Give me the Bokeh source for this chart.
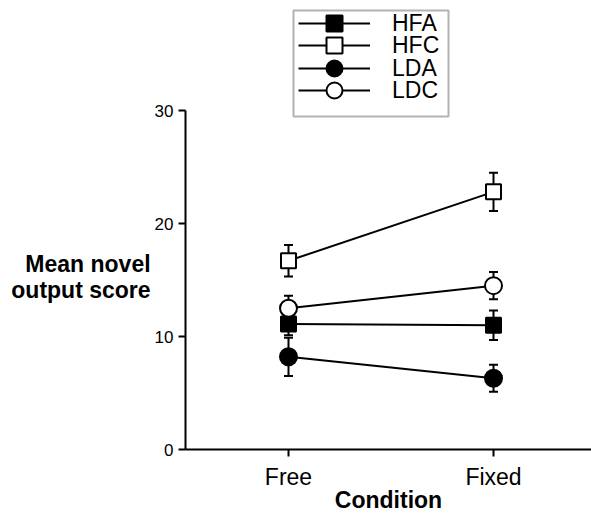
from bokeh.plotting import figure
from bokeh.models import Range1d, FixedTicker, Legend, LegendItem, BoxAnnotation
from bokeh.embed import file_html
from bokeh.resources import INLINE

conditions = ["Free", "Fixed"]
cond_x = [1, 2]
groups = ["HFA", "HFC", "LDA", "LDC"]
means = {
    "HFA": [11.1, 11.0],
    "HFC": [16.7, 22.8],
    "LDA": [8.2, 6.3],
    "LDC": [12.5, 14.5],
}
errors = {
    "HFA": [1.0, 1.3],
    "HFC": [1.4, 1.7],
    "LDA": [1.7, 1.2],
    "LDC": [1.1, 1.2],
}
markers = {"HFA": "square", "HFC": "square", "LDA": "circle", "LDC": "circle"}
fills = {"HFA": "black", "HFC": "white", "LDA": "black", "LDC": "white"}
sizes = {"HFA": 15, "HFC": 15, "LDA": 17, "LDC": 17}
y_ticks = [0, 10, 20, 30]

FONT = "Liberation Sans"
PX_PER_Y = 11.3          # vertical pixels per score unit
PX_PER_X = 205           # horizontal pixels between conditions
X0 = 1 - 103 / PX_PER_X  # left edge of plotting frame

def px_to_x(px):
    return 1 + (px - 288) / PX_PER_X

def px_to_y(py):
    return (449 - py) / PX_PER_Y

p = figure(width=591, height=515, output_backend="svg", toolbar_location=None,
           x_range=Range1d(X0, X0 + 406 / PX_PER_X),
           y_range=Range1d(0, 449 / PX_PER_Y),
           min_border_left=185, min_border_right=0, min_border_top=0,
           min_border_bottom=66)
p.outline_line_color = None
p.xgrid.visible = False
p.ygrid.visible = False
p.background_fill_color = "white"
p.border_fill_color = "white"

p.xaxis.ticker = FixedTicker(ticks=cond_x)
p.xaxis.major_label_overrides = {x: c for x, c in zip(cond_x, conditions)}
p.yaxis.ticker = FixedTicker(ticks=y_ticks)
p.yaxis.bounds = (0, 30)
for ax in (p.xaxis, p.yaxis):
    ax.axis_line_width = 2
    ax.axis_line_color = "black"
    ax.major_tick_line_width = 2
    ax.major_tick_line_color = "black"
    ax.major_tick_out = 7
    ax.major_tick_in = 0
    ax.minor_tick_line_color = None
    ax.major_label_text_font = FONT
    ax.major_label_text_color = "black"
p.yaxis.major_label_text_font_size = "17px"
p.yaxis.major_label_standoff = 5
p.xaxis.major_label_text_font_size = "23px"
p.xaxis.major_label_standoff = 7
p.xaxis.axis_label = "Condition"
p.xaxis.axis_label_text_font = FONT
p.xaxis.axis_label_text_font_style = "bold"
p.xaxis.axis_label_text_font_size = "23px"
p.xaxis.axis_label_standoff = -6
p.xaxis.axis_label_text_color = "black"

p.yaxis.axis_label = "\n\n\n\nMean novel\noutput score"
p.yaxis.axis_label_orientation = "horizontal"
p.yaxis.axis_label_text_font = FONT
p.yaxis.axis_label_text_font_style = "bold"
p.yaxis.axis_label_text_font_size = "23px"
p.yaxis.axis_label_text_line_height = 1.0
p.yaxis.axis_label_standoff = 1
p.yaxis.axis_label_text_color = "black"

for g in groups:
    ys = means[g]
    es = errors[g]
    lo = [m - e for m, e in zip(ys, es)]
    hi = [m + e for m, e in zip(ys, es)]
    p.segment(x0=cond_x, y0=lo, x1=cond_x, y1=hi, line_color="black", line_width=2)
    p.scatter(x=cond_x, y=lo, marker="dash", size=9, line_color="black", line_width=2)
    p.scatter(x=cond_x, y=hi, marker="dash", size=9, line_color="black", line_width=2)

items = {}
for g in groups:
    ys = means[g]
    lr = p.line(x=cond_x, y=ys, line_color="black", line_width=2)
    sr = p.scatter(x=cond_x, y=ys, marker=markers[g], size=sizes[g],
                   fill_color=fills[g], line_color="black", line_width=2)
    items[g] = LegendItem(label=g, renderers=[lr, sr])

# legend frame
box = BoxAnnotation(left=px_to_x(293), right=px_to_x(448),
                    top=px_to_y(10), bottom=px_to_y(116),
                    fill_color="white", fill_alpha=1,
                    line_color="black", line_width=2, level="annotation")
p.add_layout(box)

def make_legend(names, loc_y):
    return Legend(items=[items[n] for n in names], location=(113, loc_y),
                  orientation="vertical",
                  border_line_color=None, background_fill_alpha=0,
                  padding=0, spacing=5, margin=0,
                  glyph_width=72, glyph_height=40, label_height=22,
                  label_standoff=22, label_text_font=FONT,
                  label_text_font_size="23px", label_text_color="black")

p.add_layout(make_legend(["HFA", "LDA"], 449 - 88), "center")
p.add_layout(make_legend(["HFC", "LDC"], 449 - 110), "center")

open("out.html", "w").write(file_html(p, INLINE))
